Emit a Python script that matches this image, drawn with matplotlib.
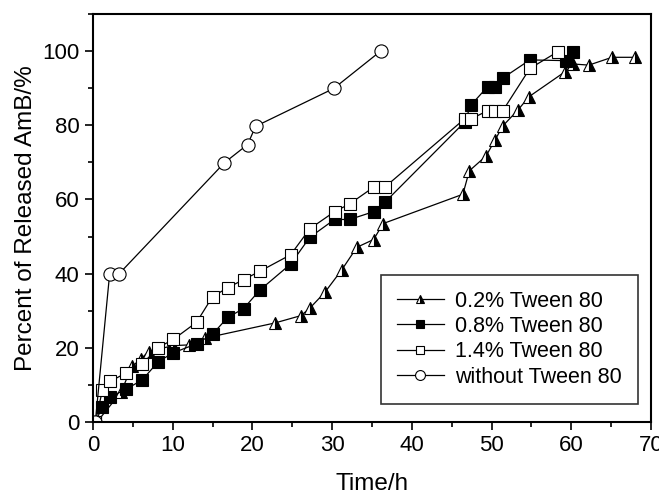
import matplotlib
matplotlib.use('Agg')
import matplotlib.pyplot as plt
from matplotlib.ticker import MultipleLocator

plt.rcParams['font.family'] = ['Liberation Sans', 'DejaVu Sans']

# 0.2% Tween 80
t_02 = [0.5, 3.5, 4.9, 6.0, 7.0, 10.0, 12.0, 14.0, 22.8, 26.1, 27.2, 29.1, 31.2, 33.1,
        35.2, 36.4, 46.4, 47.2, 49.3, 50.4, 51.4, 53.3, 54.7, 59.2, 60.2, 62.2, 65.1, 68.0]
r_02 = [0.0, 8.0, 15.0, 17.0, 19.0, 20.6, 20.8, 22.6, 26.7, 28.7, 30.7, 35.0, 41.0, 47.1,
        49.2, 53.5, 61.4, 67.7, 71.7, 75.9, 79.8, 84.1, 87.7, 94.4, 96.5, 96.2, 98.3, 98.3]

# 0.8% Tween 80
t_08 = [0.3, 1.2, 2.2, 4.2, 6.2, 8.2, 10.1, 13.0, 15.0, 16.9, 18.9, 20.9, 24.8, 27.2,
        30.3, 32.2, 35.2, 36.6, 46.6, 47.4, 49.5, 50.4, 51.4, 54.8, 59.3, 60.2]
r_08 = [0.0, 4.2, 6.8, 8.9, 11.4, 16.3, 18.7, 21.1, 23.7, 28.2, 30.6, 35.5, 42.6, 49.8,
        54.6, 54.6, 56.7, 59.2, 80.8, 85.4, 90.4, 90.4, 92.7, 97.6, 97.4, 99.8]

# 1.4% Tween 80
t_14 = [0.3, 1.2, 2.2, 4.2, 6.2, 8.2, 10.1, 13.0, 15.0, 16.9, 18.9, 20.9, 24.8, 27.2,
        30.3, 32.2, 35.2, 36.6, 46.6, 47.4, 49.5, 50.4, 51.4, 54.8, 58.3]
r_14 = [0.0, 8.7, 11.0, 13.3, 15.7, 20.1, 22.3, 26.9, 33.8, 36.2, 38.4, 40.6, 45.1, 52.1,
        56.7, 58.8, 63.3, 63.3, 81.7, 81.7, 83.9, 83.9, 83.9, 95.3, 99.8]

# without Tween 80
t_0 = [0.3, 2.1, 3.3, 16.5, 19.4, 20.4, 30.2, 36.1]
r_0 = [0.0, 40.0, 40.0, 69.9, 74.8, 79.7, 89.9, 100.0]

fig = plt.figure(figsize=(6.59, 4.96), dpi=100)
ax = fig.add_axes([0.141, 0.149, 0.847, 0.823])

lw = 0.9
ax.plot(t_02, r_02, color='black', lw=lw, marker='^', ms=8, fillstyle='right',
        markerfacecolor='black', markerfacecoloralt='white', markeredgecolor='black',
        markeredgewidth=0.8, label='0.2% Tween 80')
ax.plot(t_08, r_08, color='black', lw=lw, marker='s', ms=8, markerfacecolor='black',
        markeredgecolor='black', markeredgewidth=0.8, label='0.8% Tween 80')
ax.plot(t_14, r_14, color='black', lw=lw, marker='s', ms=8, markerfacecolor='white',
        markeredgecolor='black', markeredgewidth=0.8, label='1.4% Tween 80')
ax.plot(t_0, r_0, color='black', lw=lw, marker='o', ms=9.5, markerfacecolor='white',
        markeredgecolor='black', markeredgewidth=0.8, label='without Tween 80')

ax.set_xlim(0, 70)
ax.set_ylim(0, 110)
ax.xaxis.set_major_locator(MultipleLocator(10))
ax.xaxis.set_minor_locator(MultipleLocator(5))
ax.yaxis.set_minor_locator(MultipleLocator(10))
ax.set_yticks([0, 20, 40, 60, 80, 100])
ax.tick_params(which='major', direction='out', length=6, width=1.2, labelsize=16)
ax.tick_params(which='minor', direction='out', length=3.5, width=1.2)
for s in ax.spines.values():
    s.set_linewidth(1.5)

ax.set_xlabel('Time/h', fontsize=17.5, labelpad=12)
ax.set_ylabel('Percent of Released AmB/%', fontsize=17.5, labelpad=4)

leg = ax.legend(loc='lower right', bbox_to_anchor=(0.976, 0.045), fontsize=15.5,
                frameon=True, fancybox=False, edgecolor='black', markerscale=0.75,
                handlelength=2.2, handletextpad=0.5, labelspacing=0.2,
                borderpad=0.75, borderaxespad=0.0)
leg.get_frame().set_linewidth(1.2)

fig.savefig('out.png', dpi=100)
